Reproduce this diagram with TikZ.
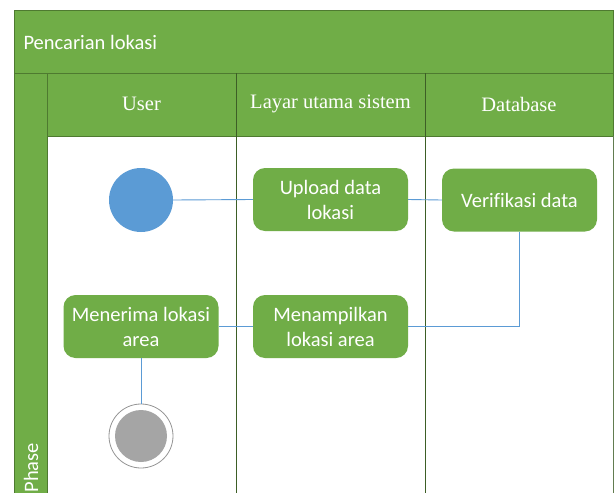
\documentclass[tikz,border=0pt]{standalone}
\usepackage{fontspec}
\setmainfont{Liberation Serif}
\newfontfamily\calfont[Ligatures=NoCommon]{Carlito}
\definecolor{lanegreen}{HTML}{70AD47}
\definecolor{darkgreen}{HTML}{4E7A30}
\definecolor{sepgreen}{HTML}{3D5E26}
\definecolor{flowblue}{HTML}{5B9BD5}
\definecolor{endgray}{HTML}{A5A5A5}
\tikzset{
  band/.style={fill=lanegreen, draw=darkgreen, line width=0.8pt},
  lanesep/.style={draw=sepgreen, line width=1pt},
  actbox/.style={rectangle, rounded corners=12pt, fill=lanegreen, draw=none,
    minimum width=155pt, minimum height=63pt, align=center, text=white,
    font=\calfont\fontsize{20.5}{25}\selectfont, inner sep=2pt},
  headtxt/.style={text=white, font=\fontsize{20.5}{24}\selectfont},
  flow/.style={draw=flowblue, line width=0.9pt}
}
\begin{document}
\begin{tikzpicture}[x=1pt,y=1pt]
\useasboundingbox (0,0) rectangle (614,-493);
\clip (0,0) rectangle (614,-493);
\fill[white] (0,0) rectangle (614,-493);
% frame
\draw[band] (14,-10) rectangle (613,-73);
\draw[band] (47,-73) rectangle (613,-136);
\draw[band] (14,-73) rectangle (47,-500);
\draw[darkgreen!60!gray, line width=0.6pt] (613,-136) -- (613,-500);
\draw[lanesep] (236,-73) -- (236,-500);
\draw[lanesep] (425,-73) -- (425,-500);
% texts
\node[anchor=west, text=white, font=\calfont\fontsize{20.5}{24}\selectfont] (title) at (20,-42) {Pencarian lokasi};
\node[headtxt] (hu) at (141.5,-104) {User};
\node[headtxt] (hl) at (330.5,-104) {Layar utama sistem};
\node[headtxt] (hd) at (519,-104) {Database};
\node[rotate=90, anchor=west, text=white, font=\calfont\fontsize{20.5}{24}\selectfont] (phase) at (31,-496) {Phase};
% nodes
\node[circle, fill=flowblue, minimum size=64pt, inner sep=0pt] (start) at (141,-200) {};
\node[actbox] (upload) at (330.5,-199.5) {Upload data\\lokasi};
\node[actbox] (verif) at (519.5,-200) {Verifikasi data};
\node[actbox] (tampil) at (330.5,-326.5) {Menampilkan\\lokasi area};
\node[actbox] (terima) at (141,-326.5) {Menerima lokasi\\area};
\node[circle, draw=endgray!90!black, line width=0.8pt, fill=white, minimum size=64pt, inner sep=0pt] (endc) at (141,-436) {};
\node[circle, fill=endgray, minimum size=52pt, inner sep=0pt] (endin) at (141,-436) {};
% connectors
\draw[flow] (start.east) -- (upload.west);
\draw[flow] (upload.east) -- (verif.west);
\draw[flow] (verif.south) |- (tampil.east);
\draw[flow] (tampil.west) -- (terima.east);
\draw[flow] (terima.south) -- (endc.north);
\end{tikzpicture}
\end{document}
